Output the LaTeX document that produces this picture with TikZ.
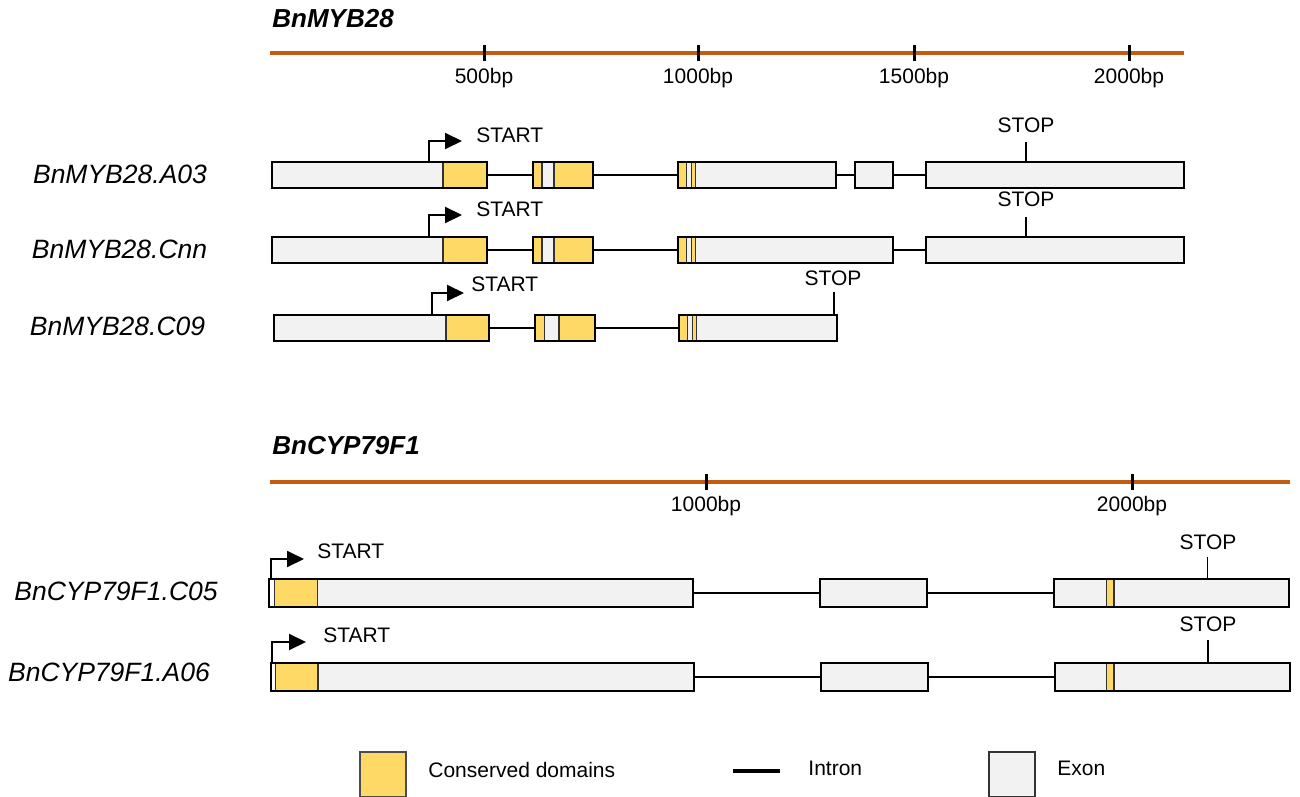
\documentclass[tikz,border=0pt]{standalone}
\usepackage{fontspec}
\setmainfont{Liberation Sans}
\usetikzlibrary{arrows.meta}
\definecolor{cons}{HTML}{FFD966}
\definecolor{exonfill}{HTML}{F2F2F2}
\definecolor{rulercol}{HTML}{C55A11}
\newcommand{\gbox}[5]{%
  \node[exonbox, minimum width={(#3-#2)*0.5pt}, minimum height={#5*0.5pt}] (#1) at ({(#2+#3)/2},#4) {};}
\newcommand{\gseg}[5]{%
  \draw[segbox,fill=#5] (#1,{#3-#4/2}) rectangle (#2,{#3+#4/2});}
\newcommand{\gout}[1]{\draw[outline] (#1.south west) rectangle (#1.north east);}
\begin{document}
\begin{tikzpicture}[x=0.5pt,y=-0.5pt,
  exonbox/.style={draw=black, fill=exonfill, line width=1pt, inner sep=0pt, outer sep=0pt},
  segbox/.style={draw=black!80, line width=0.6pt},
  outline/.style={draw=black, line width=1pt},
  intron/.style={draw=black, line width=1pt},
  startarr/.style={draw=black, line width=1pt, -{Triangle[length=8.5pt,width=8pt]}},
  stoptick/.style={draw=black, line width=0.9pt},
  small/.style={font=\fontsize{10.5}{12}\selectfont, inner sep=0pt},
  glabel/.style={font=\fontsize{13.25}{15}\selectfont\itshape, inner sep=0pt},
  title/.style={font=\fontsize{13}{15}\selectfont\bfseries\itshape, inner sep=0pt, anchor=west},
  ruler/.style={draw=rulercol, line width=1.6pt},
  tick/.style={draw=black, line width=1.5pt},
]
\useasboundingbox (0,0) rectangle (1300,797);

% ===================== BnMYB28 =====================
\node[title] (t1) at (272,19) {BnMYB28};
\coordinate (r1a) at (270,53); \coordinate (r1b) at (1184,53);
\draw[ruler] (r1a) -- (r1b);
\foreach \x/\l [count=\i] in {484/500bp,698/1000bp,914/1500bp,1129/2000bp}{
  \coordinate (k1t\i) at (\x,45); \coordinate (k1b\i) at (\x,61);
  \draw[tick] (k1t\i) -- (k1b\i);
  \node[small] (k1l\i) at (\x,78) {\l};
}

% --- A03 ---
\node[glabel] (lA03) at (120,174) {BnMYB28.A03};
\gbox{a1}{272}{487}{175}{26}
\gbox{a2}{533}{593}{175}{26}
\gbox{a3}{677.5}{836}{175}{26}
\gbox{a4}{855}{893}{175}{26}
\gbox{a5}{926}{1184}{175}{26}
\gseg{443}{487}{175}{26}{cons}
\gseg{533}{542}{175}{26}{cons}
\gseg{542}{554}{175}{26}{exonfill}
\gseg{554}{593}{175}{26}{cons}
\gseg{677.5}{686.7}{175}{26}{cons}
\gseg{686.7}{691.3}{175}{26}{exonfill}
\gseg{691.3}{695.7}{175}{26}{cons}
\foreach \n in {a1,a2,a3,a4,a5}{\gout{\n}}
\draw[intron] (a1.east) -- (a2.west);
\draw[intron] (a2.east) -- (a3.west);
\draw[intron] (a3.east) -- (a4.west);
\draw[intron] (a4.east) -- (a5.west);
\coordinate (a1s) at (429,162); \coordinate (a1e) at (462,141);
\draw[startarr] (a1s) |- (a1e);
\node[small, anchor=west] (a1st) at (476,135) {START};
\coordinate (a5s) at (1026,162); \coordinate (a5e) at (1026,142);
\draw[stoptick] (a5s) -- (a5e);
\node[small] (a5st) at (1026,125) {STOP};

% --- Cnn ---
\node[glabel] (lCnn) at (119.5,249) {BnMYB28.Cnn};
\gbox{b1}{272}{487}{250}{26}
\gbox{b2}{533}{593}{250}{26}
\gbox{b3}{677.5}{893}{250}{26}
\gbox{b4}{926}{1184}{250}{26}
\gseg{443}{487}{250}{26}{cons}
\gseg{533}{542}{250}{26}{cons}
\gseg{542}{554}{250}{26}{exonfill}
\gseg{554}{593}{250}{26}{cons}
\gseg{677.5}{686.7}{250}{26}{cons}
\gseg{686.7}{691.3}{250}{26}{exonfill}
\gseg{691.3}{695.7}{250}{26}{cons}
\foreach \n in {b1,b2,b3,b4}{\gout{\n}}
\draw[intron] (b1.east) -- (b2.west);
\draw[intron] (b2.east) -- (b3.west);
\draw[intron] (b3.east) -- (b4.west);
\coordinate (b1s) at (429,237); \coordinate (b1e) at (462,215);
\draw[startarr] (b1s) |- (b1e);
\node[small, anchor=west] (b1st) at (476,209.5) {START};
\coordinate (b4s) at (1026,237); \coordinate (b4e) at (1026,217);
\draw[stoptick] (b4s) -- (b4e);
\node[small] (b4st) at (1026,199) {STOP};

% --- C09 ---
\node[glabel] (lC09) at (117.5,326) {BnMYB28.C09};
\gbox{c1}{274}{489}{328}{26}
\gbox{c2}{535}{594.5}{328}{26}
\gbox{c3}{678.7}{837}{328}{26}
\gseg{446}{489}{328}{26}{cons}
\gseg{535}{544.3}{328}{26}{cons}
\gseg{544.3}{559}{328}{26}{exonfill}
\gseg{559}{594.5}{328}{26}{cons}
\gseg{678.7}{687.7}{328}{26}{cons}
\gseg{687.7}{692.3}{328}{26}{exonfill}
\gseg{692.3}{696.7}{328}{26}{cons}
\foreach \n in {c1,c2,c3}{\gout{\n}}
\draw[intron] (c1.east) -- (c2.west);
\draw[intron] (c2.east) -- (c3.west);
\coordinate (c1s) at (432,315); \coordinate (c1e) at (464,293);
\draw[startarr] (c1s) |- (c1e);
\node[small, anchor=west] (c1st) at (471,284.5) {START};
\coordinate (c3s) at (834,315); \coordinate (c3e) at (834,292);
\draw[stoptick] (c3s) -- (c3e);
\node[small] (c3st) at (833,278) {STOP};

% ===================== BnCYP79F1 =====================
\node[title] (t2) at (272,446) {BnCYP79F1};
\coordinate (r2a) at (270,482); \coordinate (r2b) at (1290,482);
\draw[ruler] (r2a) -- (r2b);
\foreach \x/\l [count=\i] in {706/1000bp,1132/2000bp}{
  \coordinate (k2t\i) at (\x,474); \coordinate (k2b\i) at (\x,490);
  \draw[tick] (k2t\i) -- (k2b\i);
  \node[small] (k2l\i) at (\x,506) {\l};
}

% --- C05 ---
\node[glabel] (lC05) at (116,591) {BnCYP79F1.C05};
\gbox{d1}{269}{693}{593}{28}
\gbox{d2}{820}{927}{593}{28}
\gbox{d3}{1054.3}{1289}{593}{28}
\gseg{269}{274.3}{593}{28}{white}
\gseg{274.3}{317.3}{593}{28}{cons}
\gseg{1106.7}{1114}{593}{28}{cons}
\foreach \n in {d1,d2,d3}{\gout{\n}}
\draw[intron] (d1.east) -- (d2.west);
\draw[intron] (d2.east) -- (d3.west);
\coordinate (d1s) at (271,579); \coordinate (d1e) at (304,559);
\draw[startarr] (d1s) |- (d1e);
\node[small, anchor=west] (d1st) at (317,551.5) {START};
\coordinate (d3s) at (1207.5,579); \coordinate (d3e) at (1207.5,557);
\draw[stoptick] (d3s) -- (d3e);
\node[small] (d3st) at (1208,542) {STOP};

% --- A06 ---
\node[glabel] (lA06) at (109,672) {BnCYP79F1.A06};
\gbox{e1}{270.7}{694}{676.5}{28}
\gbox{e2}{821}{928}{676.5}{28}
\gbox{e3}{1055.3}{1289.7}{676.5}{28}
\gseg{270.7}{275.3}{676.5}{28}{white}
\gseg{275.3}{318}{676.5}{28}{cons}
\gseg{1106.7}{1114}{676.5}{28}{cons}
\foreach \n in {e1,e2,e3}{\gout{\n}}
\draw[intron] (e1.east) -- (e2.west);
\draw[intron] (e2.east) -- (e3.west);
\coordinate (e1s) at (272.3,663); \coordinate (e1e) at (306,642);
\draw[startarr] (e1s) |- (e1e);
\node[small, anchor=west] (e1st) at (323,635) {START};
\coordinate (e3s) at (1208,663); \coordinate (e3e) at (1208,640);
\draw[stoptick] (e3s) -- (e3e);
\node[small] (e3st) at (1208,624) {STOP};

% ===================== Legend =====================
\node[draw=black!70, fill=cons, line width=0.6pt, minimum width=23pt, minimum height=22.5pt, inner sep=0pt] (lgc) at (383,774.5) {};
\node[small, anchor=west] (lgct) at (428,770) {Conserved domains};
\coordinate (lgia) at (733,771); \coordinate (lgib) at (780,771);
\draw[draw=black, line width=2pt] (lgia) -- (lgib);
\node[small, anchor=west] (lgit) at (808,768) {Intron};
\node[draw=black!80, fill=exonfill, line width=0.8pt, minimum width=23pt, minimum height=22.5pt, inner sep=0pt] (lge) at (1012,774.5) {};
\node[small, anchor=west] (lget) at (1057,768) {Exon};
\end{tikzpicture}
\end{document}
